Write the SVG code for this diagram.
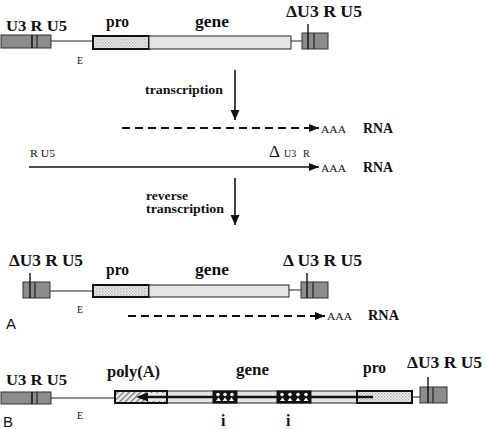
<svg xmlns="http://www.w3.org/2000/svg" width="486" height="429" viewBox="0 0 486 429">
<defs>
<pattern id="xh" patternUnits="userSpaceOnUse" width="3" height="3">
<rect width="3" height="3" fill="#f2f2f2"/>
<rect x="0" y="0" width="1.5" height="1.5" fill="#b0b0b0"/>
<rect x="1.5" y="1.5" width="1.5" height="1.5" fill="#c8c8c8"/>
</pattern>
<pattern id="hatch" patternUnits="userSpaceOnUse" width="4" height="4" patternTransform="rotate(45)">
<rect width="4" height="4" fill="#eeeeee"/>
<rect x="0" y="0" width="1.3" height="4" fill="#777"/>
</pattern>
<marker id="ah" markerUnits="userSpaceOnUse" markerWidth="10" markerHeight="8" refX="10" refY="4" orient="auto">
<path d="M0,0 L10,4 L0,8 z" fill="#111"/>
</marker>
<marker id="ahd" markerUnits="userSpaceOnUse" markerWidth="10" markerHeight="12" refX="10" refY="4.5" orient="auto">
<path d="M0,0 L10,4.5 L0,9 z" fill="#111"/>
</marker>
</defs>
<style>
.ltr{fill:#8c8c8c;stroke:#333;stroke-width:1}
.div{stroke:#222;stroke-width:1.2}
.tick{stroke:#111;stroke-width:1.4}
.pro{fill:url(#xh);stroke:#111;stroke-width:2}
.gene{fill:#e4e4e4;stroke:#222;stroke-width:1}
.ln{stroke:#222;stroke-width:1;fill:none}
.t{font-family:"Liberation Serif",serif;font-weight:bold;fill:#111}
.r{font-family:"Liberation Serif",serif;fill:#111}
.s{font-family:"Liberation Sans",sans-serif;fill:#111}
.arr{stroke:#111;stroke-width:1.6;fill:none}
.dash{stroke:#111;stroke-width:1.8;fill:none;stroke-dasharray:8,5}
.intr{fill:#111;stroke:#111}
.w{fill:#fff}
</style>

<!-- Panel A top construct -->
<g id="a1-ltr5">
<rect class="ltr" x="1" y="35" width="50" height="13"/>
<line class="div" x1="32" y1="35" x2="32" y2="48" style="stroke-width:1.8"/>
<line class="div" x1="37" y1="35" x2="37" y2="48"/>
<text class="t" x="6" y="31" font-size="15" textLength="61" lengthAdjust="spacingAndGlyphs">U3 R U5</text>
</g>
<line class="ln" x1="51" y1="41" x2="93" y2="41"/>
<text class="r" x="77" y="64" font-size="10">E</text>
<g id="a1-pro">
<rect class="pro" x="93" y="36" width="56" height="13"/>
<text class="t" x="106" y="27" font-size="16" textLength="23" lengthAdjust="spacingAndGlyphs">pro</text>
</g>
<g id="a1-gene">
<rect class="gene" x="149" y="36" width="142" height="13"/>
<text class="t" x="195" y="27" font-size="16" textLength="34" lengthAdjust="spacingAndGlyphs">gene</text>
</g>
<line class="ln" x1="291" y1="41" x2="302" y2="41"/>
<g id="a1-ltr3">
<rect class="ltr" x="302" y="33" width="26" height="16"/>
<line class="tick" x1="308" y1="24" x2="308" y2="49"/>
<line class="div" x1="314" y1="33" x2="314" y2="49"/>
<text class="t" x="286" y="17" font-size="16" textLength="76" lengthAdjust="spacingAndGlyphs">ΔU3 R U5</text>
</g>

<!-- connectors -->
<g id="connectors">
<line class="arr" x1="235" y1="70" x2="235" y2="120" marker-end="url(#ahd)"/>
<line class="dash" x1="122" y1="128" x2="319" y2="128" marker-end="url(#ah)"/>
<line class="arr" x1="29" y1="167" x2="319" y2="167" marker-end="url(#ah)"/>
<line class="arr" x1="235" y1="178" x2="235" y2="225" marker-end="url(#ahd)"/>
<line class="dash" x1="128" y1="316" x2="325" y2="316" marker-end="url(#ah)"/>
</g>

<g id="step-labels">
<text class="t" x="145" y="94" font-size="13" textLength="78" lengthAdjust="spacingAndGlyphs">transcription</text>
<text class="t" x="146" y="200" font-size="12" textLength="42" lengthAdjust="spacingAndGlyphs">reverse</text>
<text class="t" x="146" y="213" font-size="12" textLength="78" lengthAdjust="spacingAndGlyphs">transcription</text>
</g>

<g id="rna1">
<text class="r" x="321" y="133" font-size="11" textLength="25" lengthAdjust="spacingAndGlyphs">AAA</text>
<text class="t" x="363" y="133" font-size="14" textLength="30" lengthAdjust="spacingAndGlyphs">RNA</text>
</g>
<g id="rna2">
<text class="r" x="30" y="157" font-size="11" textLength="25" lengthAdjust="spacingAndGlyphs">R U5</text>
<text class="r" x="269" y="157"><tspan font-size="17">Δ</tspan><tspan font-size="10" x="284">U3</tspan><tspan font-size="10" x="303">R</tspan></text>
<text class="r" x="321" y="172" font-size="11" textLength="25" lengthAdjust="spacingAndGlyphs">AAA</text>
<text class="t" x="363" y="172" font-size="14" textLength="30" lengthAdjust="spacingAndGlyphs">RNA</text>
</g>

<!-- Panel A provirus -->
<g id="a2-ltr5">
<rect class="ltr" x="23" y="282" width="27" height="16"/>
<line class="tick" x1="30" y1="273" x2="30" y2="298"/>
<line class="div" x1="35" y1="282" x2="35" y2="298"/>
<text class="t" x="9" y="266" font-size="16" textLength="74" lengthAdjust="spacingAndGlyphs">ΔU3 R U5</text>
</g>
<line class="ln" x1="50" y1="291" x2="93" y2="291"/>
<text class="r" x="77" y="313" font-size="10">E</text>
<g id="a2-pro">
<rect class="pro" x="93" y="285" width="56" height="12"/>
<text class="t" x="106" y="275" font-size="16" textLength="23" lengthAdjust="spacingAndGlyphs">pro</text>
</g>
<g id="a2-gene">
<rect class="gene" x="149" y="285" width="140" height="12"/>
<text class="t" x="195" y="275" font-size="16" textLength="34" lengthAdjust="spacingAndGlyphs">gene</text>
</g>
<line class="ln" x1="289" y1="290" x2="301" y2="290"/>
<g id="a2-ltr3">
<rect class="ltr" x="301" y="282" width="27" height="16"/>
<line class="tick" x1="307" y1="273" x2="307" y2="298"/>
<line class="div" x1="313" y1="282" x2="313" y2="298"/>
<text class="t" x="283" y="266" font-size="16" textLength="79" lengthAdjust="spacingAndGlyphs">Δ U3 R U5</text>
</g>
<g id="rna3">
<text class="r" x="327" y="320" font-size="11" textLength="25" lengthAdjust="spacingAndGlyphs">AAA</text>
<text class="t" x="368" y="320" font-size="14" textLength="31" lengthAdjust="spacingAndGlyphs">RNA</text>
</g>
<text class="s" x="6" y="329" font-size="15">A</text>

<!-- Panel B -->
<g id="b-ltr5">
<rect class="ltr" x="1" y="392" width="50" height="12"/>
<line class="div" x1="32" y1="392" x2="32" y2="404" style="stroke-width:1.8"/>
<line class="div" x1="37" y1="392" x2="37" y2="404"/>
<text class="t" x="6" y="385" font-size="15" textLength="61" lengthAdjust="spacingAndGlyphs">U3 R U5</text>
</g>
<line class="ln" x1="51" y1="398" x2="115" y2="398"/>
<text class="r" x="77" y="419" font-size="10">E</text>
<g id="b-gene">
<rect class="gene" x="167" y="391" width="190" height="12"/>
<text class="t" x="236" y="375" font-size="16" textLength="33" lengthAdjust="spacingAndGlyphs">gene</text>
</g>
<g id="b-polyA">
<rect x="115" y="391" width="52" height="12" fill="url(#hatch)" stroke="#111" stroke-width="2"/>
<rect x="146" y="393" width="20" height="8" fill="#e8e8e8"/>
<text class="t" x="107" y="377" font-size="16" textLength="53" lengthAdjust="spacingAndGlyphs">poly(A)</text>
</g>
<g id="b-pro">
<rect class="pro" x="357" y="391" width="55" height="12"/>
<text class="t" x="363" y="373" font-size="16" textLength="23" lengthAdjust="spacingAndGlyphs">pro</text>
</g>
<g id="b-transcript">
<line x1="146" y1="397" x2="373" y2="397" stroke="#111" stroke-width="2.4"/>
<path d="M136,397 L148,392.5 L148,401.5 z" fill="#111"/>
</g>
<g id="b-intron1">
<rect class="intr" x="213" y="391" width="24" height="12"/>
<circle class="w" cx="218" cy="394.5" r="1.8"/><circle class="w" cx="225" cy="394.5" r="1.8"/><circle class="w" cx="232" cy="394.5" r="1.8"/>
<path class="w" d="M216,401 L218.5,397.5 L221,401 z M222.5,401 L225,397.5 L227.5,401 z M229,401 L231.5,397.5 L234,401 z"/>
<text class="t" x="221" y="426" font-size="16">i</text>
</g>
<g id="b-intron2">
<rect class="intr" x="277" y="391" width="34" height="12"/>
<circle class="w" cx="282" cy="394.5" r="1.8"/><circle class="w" cx="290" cy="394.5" r="1.8"/><circle class="w" cx="298" cy="394.5" r="1.8"/><circle class="w" cx="306" cy="394.5" r="1.8"/>
<path class="w" d="M280,401 L282.5,397.5 L285,401 z M287.5,401 L290,397.5 L292.5,401 z M295.5,401 L298,397.5 L300.5,401 z M303.5,401 L306,397.5 L308.5,401 z"/>
<text class="t" x="286" y="426" font-size="16">i</text>
</g>
<line class="ln" x1="412" y1="397" x2="420" y2="397"/>
<g id="b-ltr3">
<rect class="ltr" x="420" y="387" width="27" height="16"/>
<line class="tick" x1="428" y1="377" x2="428" y2="403"/>
<line class="div" x1="433" y1="387" x2="433" y2="403"/>
<text class="t" x="407" y="368" font-size="16" textLength="75" lengthAdjust="spacingAndGlyphs">ΔU3 R U5</text>
</g>
<text class="s" x="3" y="427" font-size="15">B</text>
</svg>
